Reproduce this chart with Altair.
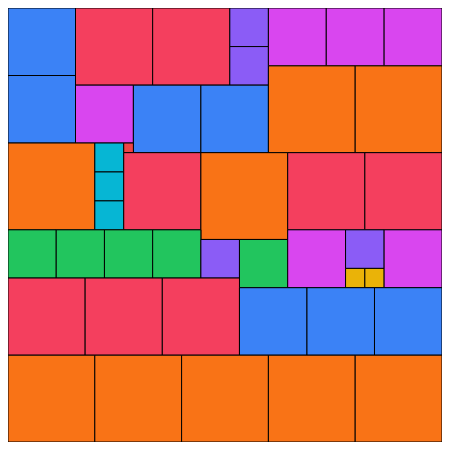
import altair as alt
import pandas as pd

# squares in grid units (1 unit = 10 px in the reference): left, top, side, colour group
xs = [0, 0, 7, 15, 23, 23, 27, 33, 39, 7, 13, 20, 27, 36,
      0, 9, 9, 9, 12, 12, 20, 29, 37,
      0, 5, 10, 15, 20, 24, 29, 35, 35, 37, 39,
      0, 8, 16, 24, 31, 38,
      0, 9, 18, 27, 36]
ys = [0, 7, 0, 0, 0, 4, 0, 0, 0, 8, 8, 8, 6, 6,
      14, 14, 17, 20, 14, 15, 15, 15, 15,
      23, 23, 23, 23, 24, 24, 23, 23, 27, 27, 23,
      28, 28, 28, 29, 29, 29,
      36, 36, 36, 36, 36]
sides = [7, 7, 8, 8, 4, 4, 6, 6, 6, 6, 7, 7, 9, 9,
         9, 3, 3, 3, 1, 8, 9, 8, 8,
         5, 5, 5, 5, 4, 5, 6, 4, 2, 2, 6,
         8, 8, 8, 7, 7, 7,
         9, 9, 9, 9, 9]
groups = ["blue", "blue", "rose", "rose", "violet", "violet", "fuchsia", "fuchsia", "fuchsia",
          "fuchsia", "blue", "blue", "orange", "orange",
          "orange", "cyan", "cyan", "cyan", "red", "rose", "orange", "rose", "rose",
          "green", "green", "green", "green", "violet", "green", "fuchsia", "violet", "yellow", "yellow", "fuchsia",
          "rose", "rose", "rose", "blue", "blue", "blue",
          "orange", "orange", "orange", "orange", "orange"]

group_names = ["blue", "rose", "violet", "fuchsia", "orange", "cyan", "red", "green", "yellow"]
group_colors = ["#3b82f6", "#f43f5e", "#8b5cf6", "#d946ef", "#f97316", "#06b6d4", "#ef4444", "#22c55e", "#eab308"]

df = pd.DataFrame({"x": xs, "y": ys, "side": sides, "group": groups})
df["x2"] = df["x"] + df["side"]
df["y2"] = df["y"] + df["side"]

chart = alt.Chart(df).mark_rect(stroke="black", strokeWidth=1).encode(
    x=alt.X("x:Q", scale=alt.Scale(domain=[0, 45], nice=False, zero=False), axis=None),
    x2="x2:Q",
    y=alt.Y("y:Q", scale=alt.Scale(domain=[0, 45], reverse=True, nice=False, zero=False), axis=None),
    y2="y2:Q",
    color=alt.Color("group:N", scale=alt.Scale(domain=group_names, range=group_colors), legend=None),
).properties(
    width=434, height=434, padding=0, autosize="none"
).configure_view(stroke=None)

chart.save("out.html", embed_options={"renderer": "svg", "actions": False})
